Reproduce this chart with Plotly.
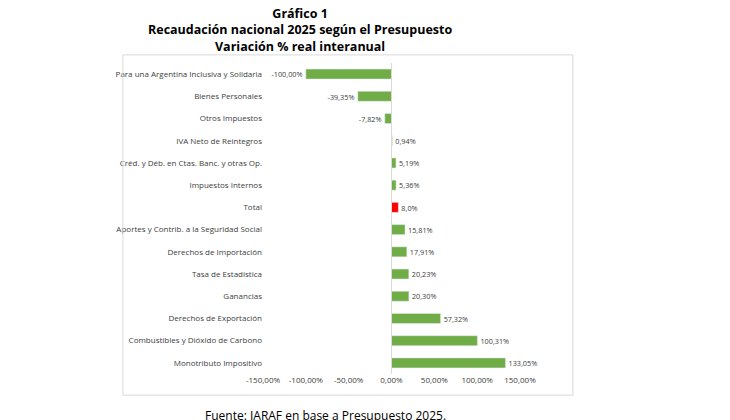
import plotly.graph_objects as go

# Datos
categorias = [
    "Para una Argentina Inclusiva y Solidaria", "Bienes Personales", "Otros Impuestos",
    "IVA Neto de Reintegros", "Créd. y Déb. en Ctas. Banc. y otras Op.", "Impuestos Internos",
    "Total", "Aportes y Contrib. a la Seguridad Social", "Derechos de Importación",
    "Tasa de Estadística", "Ganancias", "Derechos de Exportación",
    "Combustibles y Dióxido de Carbono", "Monotributo Impositivo",
]
valores = [-100.00, -39.35, -7.82, 0.94, 5.19, 5.36, 8.0, 15.81, 17.91, 20.23, 20.30, 57.32, 100.31, 133.05]
etiquetas = ["-100,00%", "-39,35%", "-7,82%", "0,94%", "5,19%", "5,36%", "8,0%", "15,81%",
             "17,91%", "20,23%", "20,30%", "57,32%", "100,31%", "133,05%"]
ticks = [-150, -100, -50, 0, 50, 100, 150]
tick_txt = ["-150,00%", "-100,00%", "-50,00%", "0,00%", "50,00%", "100,00%", "150,00%"]

colores = ["#FF0000" if c == "Total" else "#70AD47" for c in categorias]

fig = go.Figure(go.Bar(
    x=valores, y=categorias, orientation="h",
    marker=dict(color=colores), width=0.45,
    text=etiquetas, textposition="outside", cliponaxis=False,
    textfont=dict(size=8, color="#404040"),
))

fig.update_layout(
    width=730, height=420,
    margin=dict(l=255, r=218, t=55, b=54),
    paper_bgcolor="white", plot_bgcolor="white",
    font=dict(family="Open Sans", size=8, color="#404040"),
    showlegend=False,
    xaxis=dict(range=[-150, 150], tickvals=ticks, ticktext=tick_txt,
               showgrid=False, zeroline=False, showline=False, ticks=""),
    yaxis=dict(autorange="reversed", showgrid=False, ticks="", ticklen=0),
    shapes=[
        dict(type="rect", xref="paper", yref="paper", x0=-0.545, x1=1.206, y0=-0.068, y1=1.026,
             line=dict(color="#D9D9D9", width=1)),
        dict(type="line", xref="x", yref="paper", x0=0, x1=0, y0=0, y1=1,
             line=dict(color="#D9D9D9", width=1)),
    ],
    annotations=[
        dict(text="<b>Gráfico 1</b><br><b>Recaudación nacional 2025 según el Presupuesto</b><br><b>Variación % real interanual</b>",
             xref="paper", yref="paper", x=0.144, y=1.0, yanchor="bottom", xanchor="center",
             yshift=6, showarrow=False, font=dict(family="Open Sans", size=12.5, color="black")),
        dict(text="Fuente: IARAF en base a Presupuesto 2025.", xref="paper", yref="paper",
             x=0.245, y=-0.135, yanchor="middle", xanchor="center", showarrow=False,
             font=dict(family="Open Sans", size=12, color="black")),
    ],
)

fig.write_html("out.html")
